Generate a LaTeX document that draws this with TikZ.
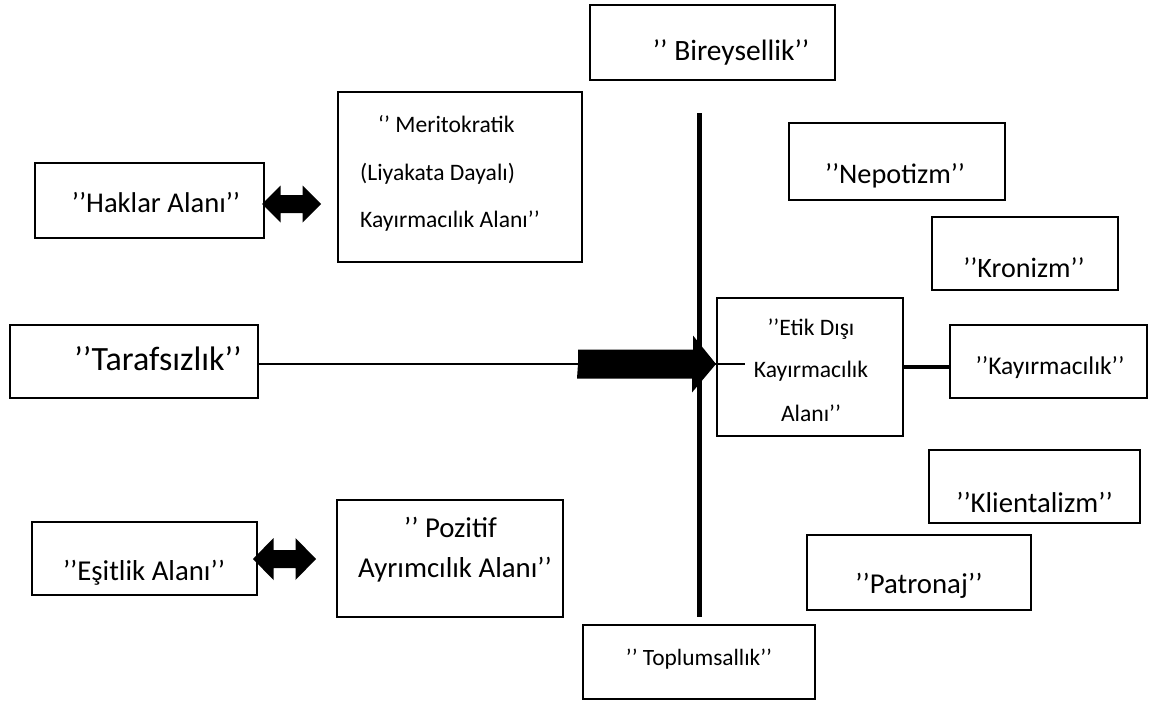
\documentclass[tikz,border=0pt]{standalone}
\usepackage{fontspec}
\setmainfont{Carlito}
\usetikzlibrary{calc}
\begin{document}
\begin{tikzpicture}[x=1pt,y=-1pt,
  box/.style={draw,line width=2pt,inner sep=0pt},
  txt/.style={font=\fontsize{#1pt}{#1pt}\selectfont,inner sep=0pt,anchor=base},
  conn/.style={line width=2.5pt},
  axis/.style={line width=4.5pt},
  arrowfill/.style={fill=black}]
\useasboundingbox (0,0) rectangle (1149,701);

% boxes
\node[box,minimum width=245pt,minimum height=75pt] (bir) at (712.5,42.5) {};
\node[box,minimum width=244pt,minimum height=170pt] (mer) at (460,177) {};
\node[box,minimum width=229pt,minimum height=75pt] (hak) at (149.5,200.5) {};
\node[box,minimum width=216pt,minimum height=77pt] (nep) at (897,161.5) {};
\node[box,minimum width=186pt,minimum height=73pt] (kro) at (1025,253.5) {};
\node[box,minimum width=248pt,minimum height=73pt] (tar) at (134,361.5) {};
\node[box,minimum width=186pt,minimum height=138pt] (etik) at (810,367) {};
\node[box,minimum width=197pt,minimum height=73pt] (kay) at (1048.5,361.5) {};
\node[box,minimum width=211pt,minimum height=73pt] (kli) at (1034.5,486.5) {};
\node[box,minimum width=224pt,minimum height=75pt] (pat) at (919,572.5) {};
\node[box,minimum width=225pt,minimum height=73pt] (esit) at (144.5,558.5) {};
\node[box,minimum width=226pt,minimum height=117pt] (poz) at (450,558.5) {};
\node[box,minimum width=232pt,minimum height=74pt] (top) at (699,662) {};

% labels
\node[txt=29.5] (bir-t) at (731,60) {’’ Bireysellik’’};
\node[txt=23.6,anchor=base west] (mer-1) at (378,132) {‘’ Meritokratik};
\node[txt=23.6,anchor=base west] (mer-2) at (360,180) {(Liyakata Dayalı)};
\node[txt=23.6,anchor=base west] (mer-3) at (360,227) {Kayırmacılık Alanı’’};
\node[txt=28.6] (hak-t) at (156,212) {’’Haklar Alanı’’};
\node[txt=28.3] (nep-t) at (895,183) {’’Nepotizm’’};
\node[txt=28.1] (kro-t) at (1024,277) {’’Kronizm’’};
\node[txt=34] (tar-t) at (158,370) {’’Tarafsızlık’’};
\node[txt=23.6] (etik-1) at (811,335) {’’Etik Dışı};
\node[txt=23.6] (etik-2) at (811,377) {Kayırmacılık};
\node[txt=23.6] (etik-3) at (811,421) {Alanı’’};
\node[txt=25.5] (kay-t) at (1050,374) {’’Kayırmacılık’’};
\node[txt=28.7] (kli-t) at (1034.5,512) {’’Klientalizm’’};
\node[txt=28.8] (pat-t) at (919,593) {’’Patronaj’’};
\node[txt=28.8] (esit-t) at (144,580) {’’Eşitlik Alanı’’};
\node[txt=28.8] (poz-1) at (450.5,537) {’’ Pozitif};
\node[txt=28.8] (poz-2) at (455,577) {Ayrımcılık Alanı’’};
\node[txt=23.4] (top-t) at (699,665) {’’ Toplumsallık’’};

% vertical axis
\coordinate (ax-top) at (699.5,113);
\coordinate (ax-bot) at (699.5,617);
\draw[axis] (ax-top) -- (ax-bot);

% double arrow between the rights box and the merit box
\coordinate (a1l) at (262,204);
\coordinate (a1r) at (321,204);
\fill[arrowfill] (a1l) -- ++(18.5,-18.5) -- ++(0,9.5) -- ($(a1r)+(-18.5,-9)$)
  -- ++(0,-9.5) -- (a1r) -- ++(-18.5,18.5) -- ++(0,-9.5) -- ($(a1l)+(18.5,9)$)
  -- ++(0,9.5) -- cycle;

% double arrow between the equality box and positive discrimination box
\coordinate (a2l) at (253,559);
\coordinate (a2r) at (316,559);
\fill[arrowfill] (a2l) -- ++(20.5,-21) -- ++(0,12) -- ($(a2r)+(-20.5,-9)$)
  -- ++(0,-12) -- (a2r) -- ++(-20.5,21) -- ++(0,-12) -- ($(a2l)+(20.5,9)$)
  -- ++(0,12) -- cycle;

% line from neutrality into the unethical favouritism box
\coordinate (a3t) at (578,364);
\coordinate (a3h) at (a3t -| etik.west);
\coordinate (ln-end) at (745,364);
\draw[conn] (tar.east |- a3t) -- (ln-end);
\fill[arrowfill] (a3t) -- ++(0,-14.5) -- ++(115,0) -- ++(0,-14) -- (a3h)
  -- ($(a3h)+(-24,28.5)$) -- ++(0,-14) -- ++(-115,0) -- cycle;

% link to favouritism
\draw[line width=4pt] (etik.east) -- (etik.east -| kay.west);
\end{tikzpicture}
\end{document}
